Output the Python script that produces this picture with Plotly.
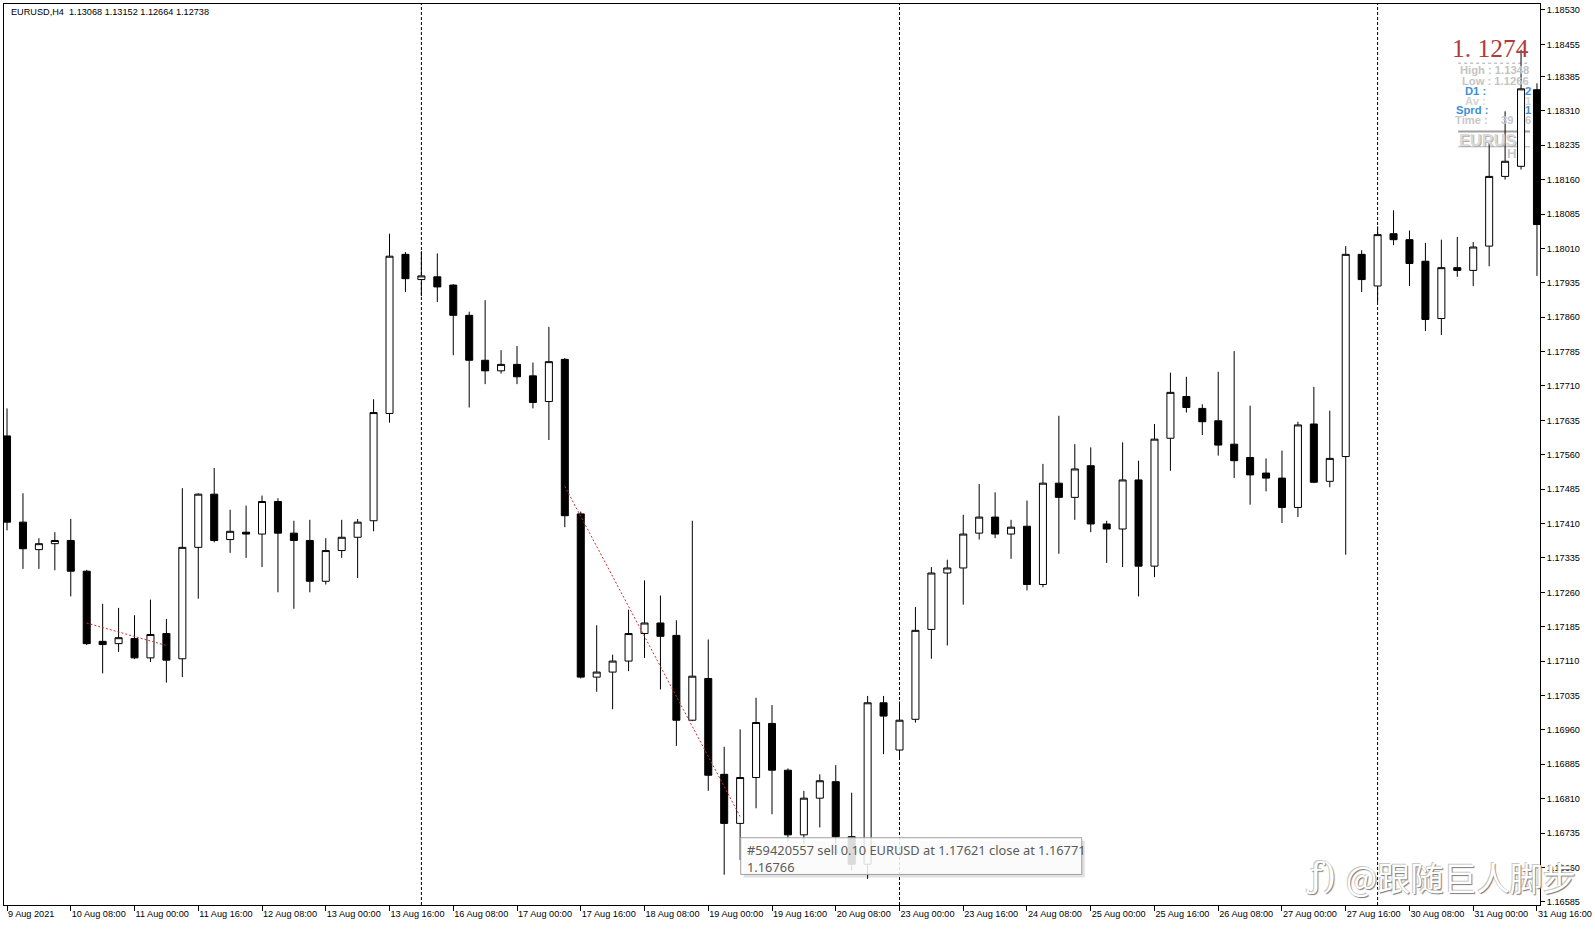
import numpy as np
import pandas as pd
import plotly.graph_objects as go

# ---------------- data ----------------
times = [t.strftime("%Y-%m-%d %H:%M")
         for t in pd.date_range("2021-08-09 16:00", "2021-08-31 16:00", freq="4h")
         if t.weekday() < 5]

open_ = [1.17601, 1.17413, 1.17353, 1.17366, 1.17373, 1.17306, 1.17153, 1.17148, 1.17159, 1.17117,
         1.17170, 1.17115, 1.17358, 1.17474, 1.17375, 1.17391, 1.17387, 1.17458, 1.17389, 1.17373,
         1.17284, 1.17351, 1.17380, 1.17416, 1.17650, 1.17997, 1.17942, 1.17948, 1.17930, 1.17864,
         1.17766, 1.17743, 1.17757, 1.17732, 1.17676, 1.17768, 1.17431, 1.17075, 1.17086, 1.17110,
         1.17170, 1.17193, 1.17166, 1.16981, 1.17072, 1.16863, 1.16756, 1.16856, 1.16974, 1.16872,
         1.16731, 1.16811, 1.16847, 1.16727, 1.16667, 1.17019, 1.16916, 1.16983, 1.17179, 1.17302,
         1.17313, 1.17389, 1.17424, 1.17387, 1.17404, 1.17277, 1.17498, 1.17467, 1.17536, 1.17409,
         1.17398, 1.17505, 1.17317, 1.17596, 1.17687, 1.17661, 1.17634, 1.17583, 1.17554, 1.17520,
         1.17509, 1.17445, 1.17627, 1.17502, 1.17556, 1.17997, 1.17928, 1.18042, 1.18029, 1.17982,
         1.17857, 1.17968, 1.17962, 1.18015, 1.18167, 1.18189, 1.18356]
high = [1.17661, 1.17476, 1.17378, 1.17391, 1.17420, 1.17309, 1.17235, 1.17226, 1.17210, 1.17244,
        1.17202, 1.17487, 1.17476, 1.17531, 1.17440, 1.17449, 1.17471, 1.17465, 1.17416, 1.17418,
        1.17378, 1.17418, 1.17420, 1.17681, 1.18042, 1.18002, 1.18004, 1.17999, 1.17932, 1.17872,
        1.17897, 1.17788, 1.17797, 1.17761, 1.17839, 1.17771, 1.17436, 1.17188, 1.17124, 1.17222,
        1.17286, 1.17253, 1.17199, 1.17416, 1.17157, 1.16923, 1.16961, 1.17030, 1.17014, 1.16876,
        1.16827, 1.16863, 1.16883, 1.16823, 1.17034, 1.17034, 1.17022, 1.17228, 1.17315, 1.17331,
        1.17429, 1.17496, 1.17478, 1.17418, 1.17460, 1.17540, 1.17645, 1.17583, 1.17576, 1.17416,
        1.17587, 1.17547, 1.17627, 1.17739, 1.17730, 1.17670, 1.17741, 1.17786, 1.17667, 1.17552,
        1.17569, 1.17632, 1.17708, 1.17656, 1.18015, 1.18006, 1.18058, 1.18093, 1.18049, 1.18022,
        1.18029, 1.18035, 1.18024, 1.18240, 1.18309, 1.18443, 1.18370]
low = [1.17395, 1.17311, 1.17311, 1.17308, 1.17251, 1.17145, 1.17083, 1.17130, 1.17114, 1.17108,
       1.17063, 1.17075, 1.17246, 1.17369, 1.17346, 1.17335, 1.17315, 1.17260, 1.17224, 1.17260,
       1.17277, 1.17335, 1.17291, 1.17393, 1.17630, 1.17915, 1.17906, 1.17893, 1.17777, 1.17663,
       1.17714, 1.17737, 1.17714, 1.17661, 1.17592, 1.17402, 1.17072, 1.17043, 1.17005, 1.17088,
       1.17117, 1.17048, 1.16925, 1.16979, 1.16827, 1.16644, 1.16676, 1.16789, 1.16776, 1.16716,
       1.16711, 1.16747, 1.16711, 1.16653, 1.16635, 1.16907, 1.16898, 1.16976, 1.17115, 1.17144,
       1.17233, 1.17375, 1.17378, 1.17333, 1.17264, 1.17271, 1.17344, 1.17418, 1.17391, 1.17324,
       1.17315, 1.17251, 1.17293, 1.17525, 1.17652, 1.17603, 1.17558, 1.17509, 1.17451, 1.17480,
       1.17411, 1.17424, 1.17498, 1.17489, 1.17342, 1.17915, 1.17893, 1.18017, 1.17928, 1.17830,
       1.17821, 1.17948, 1.17928, 1.17971, 1.18160, 1.18182, 1.17950]
close = [1.17413, 1.17355, 1.17366, 1.17373, 1.17306, 1.17148, 1.17146, 1.17161, 1.17117, 1.17168,
         1.17112, 1.17358, 1.17474, 1.17373, 1.17393, 1.17387, 1.17458, 1.17389, 1.17373, 1.17284,
         1.17351, 1.17380, 1.17413, 1.17652, 1.17993, 1.17944, 1.17950, 1.17926, 1.17864, 1.17766,
         1.17743, 1.17757, 1.17730, 1.17674, 1.17763, 1.17427, 1.17075, 1.17086, 1.17110, 1.17170,
         1.17193, 1.17164, 1.16981, 1.17077, 1.16861, 1.16756, 1.16856, 1.16976, 1.16872, 1.16731,
         1.16811, 1.16849, 1.16727, 1.16667, 1.17019, 1.16990, 1.16981, 1.17177, 1.17302, 1.17313,
         1.17387, 1.17424, 1.17387, 1.17402, 1.17277, 1.17498, 1.17467, 1.17529, 1.17409, 1.17398,
         1.17505, 1.17317, 1.17594, 1.17696, 1.17663, 1.17632, 1.17581, 1.17547, 1.17516, 1.17509,
         1.17445, 1.17625, 1.17500, 1.17552, 1.17997, 1.17942, 1.18040, 1.18029, 1.17977, 1.17855,
         1.17968, 1.17962, 1.18013, 1.18167, 1.18200, 1.18358, 1.18062]

# closed trades drawn as dotted lines (open time/price -> close time/price)
trade_open_time = ["2021-08-10 12:00", "2021-08-17 12:00"]
trade_open_price = [1.17193, 1.17491]
trade_close_time = ["2021-08-11 08:00", "2021-08-19 08:00"]
trade_close_price = [1.17144, 1.16771]

y_tick_labels = ["1.18530", "1.18455", "1.18385", "1.18310", "1.18235", "1.18160", "1.18085",
                 "1.18010", "1.17935", "1.17860", "1.17785", "1.17710", "1.17635", "1.17560",
                 "1.17485", "1.17410", "1.17335", "1.17260", "1.17185", "1.17110", "1.17035",
                 "1.16960", "1.16885", "1.16810", "1.16735", "1.16660", "1.16585"]
x_tick_times = ["2021-08-09 16:00", "2021-08-10 08:00", "2021-08-11 00:00", "2021-08-11 16:00",
                "2021-08-12 08:00", "2021-08-13 00:00", "2021-08-13 16:00", "2021-08-16 08:00",
                "2021-08-17 00:00", "2021-08-17 16:00", "2021-08-18 08:00", "2021-08-19 00:00",
                "2021-08-19 16:00", "2021-08-20 08:00", "2021-08-23 00:00", "2021-08-23 16:00",
                "2021-08-24 08:00", "2021-08-25 00:00", "2021-08-25 16:00", "2021-08-26 08:00",
                "2021-08-27 00:00", "2021-08-27 16:00", "2021-08-30 08:00", "2021-08-31 00:00",
                "2021-08-31 16:00"]
x_tick_labels = ["9 Aug 2021", "10 Aug 08:00", "11 Aug 00:00", "11 Aug 16:00", "12 Aug 08:00",
                 "13 Aug 00:00", "13 Aug 16:00", "16 Aug 08:00", "17 Aug 00:00", "17 Aug 16:00",
                 "18 Aug 08:00", "19 Aug 00:00", "19 Aug 16:00", "20 Aug 08:00", "23 Aug 00:00",
                 "23 Aug 16:00", "24 Aug 08:00", "25 Aug 00:00", "25 Aug 16:00", "26 Aug 08:00",
                 "27 Aug 00:00", "27 Aug 16:00", "30 Aug 08:00", "31 Aug 00:00", "31 Aug 16:00"]

header_text = "EURUSD,H4  1.13068 1.13152 1.12664 1.12738"
tooltip_text = "#59420557 sell 0.10 EURUSD at 1.17621 close at 1.16771<br>1.16766"
watermark_logo = "ƒ)"
watermark_text = "@跟随巨人脚步"

# ---------------- layout helpers ----------------
W, H = 1595, 929
S = 0.9812                      # measured-pixel -> real-pixel scale
PL, PR, PT, PB = 3, 1550, 4, 905
def px(x):
    return (x / S - PL) / (PR - PL)
def py(y):
    return (PB - y / S) / (PB - PT)
def fs(v):
    return v / S

FONT = "Liberation Sans, Arial, sans-serif"

fig = go.Figure()

fig.add_trace(go.Candlestick(
    x=times, open=open_, high=high, low=low, close=close,
    increasing=dict(line=dict(color="black", width=1), fillcolor="white"),
    decreasing=dict(line=dict(color="black", width=1), fillcolor="black"),
    whiskerwidth=0, showlegend=False, hoverinfo="skip"))

for ot, op, ct, cp in zip(trade_open_time, trade_open_price, trade_close_time, trade_close_price):
    fig.add_trace(go.Scatter(x=[ot, ct], y=[op, cp], mode="lines",
                             line=dict(color="#c83030", width=1, dash="2px,2px"),
                             showlegend=False, hoverinfo="skip"))

shapes = []
# weekly period separators
for i, t in enumerate(times):
    ts = pd.Timestamp(t)
    if ts.weekday() == 0 and ts.hour == 0:
        shapes.append(dict(type="line", xref="x", yref="paper", x0=i, x1=i, y0=0, y1=1,
                           line=dict(color="black", width=1, dash="3px,2px"), layer="below"))

# info panel lines
shapes.append(dict(type="line", xref="paper", yref="paper", x0=px(1440), x1=px(1511),
                   y0=py(62), y1=py(62), line=dict(color="#a8a8a8", width=1, dash="dot"), layer="below"))
shapes.append(dict(type="line", xref="paper", yref="paper", x0=px(1440), x1=px(1511),
                   y0=py(129), y1=py(129), line=dict(color="#a0a0a0", width=2), layer="below"))
shapes.append(dict(type="line", xref="paper", yref="paper", x0=px(1440), x1=px(1511),
                   y0=py(144), y1=py(144), line=dict(color="#b0b0b0", width=1), layer="below"))

# tooltip box with shadow
shapes.append(dict(type="rect", xref="paper", yref="paper", x0=px(734), x1=px(1071),
                   y0=py(861), y1=py(825), fillcolor="rgba(0,0,0,0.12)", line=dict(width=0),
                   layer="above"))
shapes.append(dict(type="rect", xref="paper", yref="paper", x0=px(731), x1=px(1068),
                   y0=py(858), y1=py(822), fillcolor="rgba(255,255,255,0.86)",
                   line=dict(color="#a0a0a0", width=1), layer="above"))

annotations = []
def ann(text, x, y, size, color, xanchor="left", yanchor="middle", family=FONT, bold=False, shadow=None):
    f = dict(size=fs(size), color=color, family=family)
    if shadow:
        f["shadow"] = shadow
    annotations.append(dict(text=(f"<b>{text}</b>" if bold else text), xref="paper", yref="paper",
                            x=px(x), y=py(y), xanchor=xanchor, yanchor=yanchor, showarrow=False,
                            font=f, align="left"))

ann(header_text, 8, 12, 9, "black")

# info panel
ann("1. 1274", 1512, 48, 25, "#b23a3a", xanchor="right", family="Liberation Serif, serif")
ann("High : 1.1348", 1512, 69, 11, "#c4c4c4", xanchor="right", bold=True)
ann("Low : 1.1266", 1512, 79, 11, "#c4c4c4", xanchor="right", bold=True)
ann("D1 :", 1469, 89, 11, "#3d8fd6", xanchor="right", bold=True)
ann("2", 1504, 89, 11, "#3d8fd6", bold=True)
ann("Av :", 1469, 99, 11, "#d4d4d4", xanchor="right", bold=True)
ann("1", 1504, 99, 11, "#d4d4d4", bold=True)
ann("Sprd :", 1471, 108, 11, "#3d8fd6", xanchor="right", bold=True)
ann("1", 1504, 108, 11, "#3d8fd6", bold=True)
ann("Time :", 1471, 118, 11, "#c8c8c8", xanchor="right", bold=True)
ann("39", 1480, 118, 11, "#c8c8c8", bold=True)
ann("6", 1504, 118, 11, "#c8c8c8", bold=True)
ann("EURUS", 1439, 137, 16, "#dadada", bold=True, shadow="1px 1px 0px #b0b0b0")
ann("H", 1486, 151, 13, "#c8c8c8", bold=True)

# tooltip text
ann(tooltip_text, 735, 823, 12.6, "#5a5a5a", yanchor="top", family="Noto Sans, sans-serif")

# watermark (embossed look via text shadow)
EMB = "1px 1px 1px #7a7a7a, -1px -1px 0px #c8c8c8"
ann(watermark_logo, 1288, 860, 34, "white", family="DejaVu Serif, serif", shadow=EMB)
ann(watermark_text, 1327, 861, 32.5, "white", family="Noto Sans CJK SC, sans-serif", shadow=EMB)

fig.update_layout(
    width=W, height=H,
    margin=dict(l=PL, r=W - PR, t=PT, b=H - PB, pad=0),
    paper_bgcolor="white", plot_bgcolor="white",
    boxgap=0.37,
    shapes=shapes, annotations=annotations,
    showlegend=False,
    font=dict(family=FONT, size=fs(9), color="black"),
    xaxis=dict(type="category", range=[-0.19, 96.19], rangeslider=dict(visible=False),
               tickmode="array", tickvals=x_tick_times, ticktext=x_tick_labels,
               ticks="outside", ticklen=5, tickcolor="black", tickwidth=1,
               ticklabelposition="outside right",
               showline=True, linecolor="black", linewidth=1, mirror=True,
               showgrid=False, zeroline=False,
               tickfont=dict(size=fs(9), color="black", family=FONT)),
    yaxis=dict(side="right", range=[1.16578, 1.18543],
               tickmode="array", tickvals=[float(v) for v in y_tick_labels], ticktext=y_tick_labels,
               ticks="outside", ticklen=4, tickcolor="black", tickwidth=1,
               showline=True, linecolor="black", linewidth=1, mirror=True,
               showgrid=False, zeroline=False,
               tickfont=dict(size=fs(9), color="black", family=FONT)),
)

fig.write_html("out.html", config={"displayModeBar": False, "staticPlot": True},
               post_script="document.body.style.margin='0';document.body.style.overflow='hidden';")
